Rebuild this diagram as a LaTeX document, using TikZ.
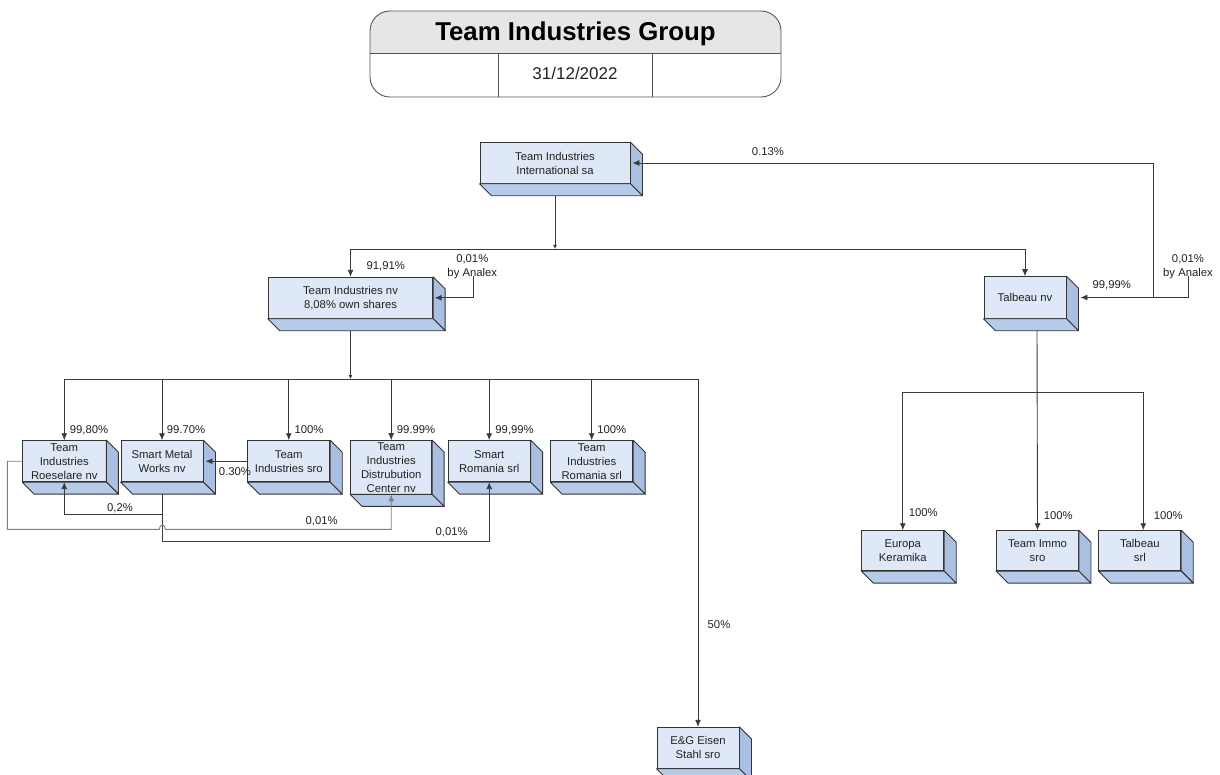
\documentclass[tikz,border=0pt]{standalone}
\usepackage{fontspec}
\setmainfont{Liberation Sans}
\usetikzlibrary{arrows.meta}
\definecolor{frontc}{HTML}{DEE8F6}
\definecolor{sidec}{HTML}{A9C0E2}
\definecolor{botc}{HTML}{B6CAEA}
\definecolor{edgec}{HTML}{333333}
\definecolor{linec}{HTML}{3A3A3A}
\definecolor{graylinec}{HTML}{808080}
\definecolor{txtc}{HTML}{222222}
\definecolor{titleg}{HTML}{E6E6E6}
\definecolor{titleedge}{HTML}{555555}
\tikzset{
  cube/.style={draw=edgec, fill=frontc, line width=0.9pt, inner sep=0pt, align=center,
    font=\fontsize{11.3}{14}\selectfont, text=txtc, minimum width=82, minimum height=41},
  lbl/.style={inner sep=0pt, font=\fontsize{11.3}{14}\selectfont, text=txtc, align=center},
  link/.style={draw=linec, line width=0.9pt},
  arr/.style={link, -{Latex[length=7,width=6]}},
  dotarr/.style={link, -{Latex[length=4,width=4]}},
  sideface/.style={fill=sidec, draw=edgec, line width=0.9pt, line join=round},
  botface/.style={fill=botc, draw=edgec, line width=0.9pt, line join=round},
}
\begin{document}
\begin{tikzpicture}[x=1pt,y=-1pt]
\useasboundingbox (0,0) rectangle (1220,775);
% title block
\begin{scope}
\clip[rounded corners=20] (370,11) rectangle (781,97);
\fill[titleg] (370,11) rectangle (781,53);
\end{scope}
\draw[titleedge, line width=0.9pt, rounded corners=20] (370,11) rectangle (781,97);
\draw[titleedge, line width=0.9pt] (370,53) -- (781,53);
\draw[titleedge, line width=0.9pt] (498,53) -- (498,97);
\draw[titleedge, line width=0.9pt] (652,53) -- (652,97);
\node[inner sep=0pt, anchor=base, font=\fontsize{25.8}{30}\selectfont\bfseries] (title) at (575.5,40.7) {Team Industries Group};
\node[inner sep=0pt, anchor=base, font=\fontsize{17}{20}\selectfont, text=txtc] (date) at (575,79.3) {31/12/2022};

% boxes
\node[cube, minimum width=150, minimum height=40.6] (tii) at (555,163) {Team Industries\\International sa};
\node[cube, minimum width=164.4, minimum height=41] (tinv) at (350.5,297.8) {Team Industries nv\\8,08\% own shares};
\node[cube, minimum height=41.6] (tal) at (1025,297.5) {Talbeau nv};
\node[cube, minimum width=83.3] (tir) at (64.3,461.2) {Team\\Industries\\Roeselare nv};
\node[cube] (smw) at (162,461.2) {Smart Metal\\Works nv};
\node[cube] (tisro) at (288.8,461.2) {Team\\Industries sro};
\node[cube, minimum width=81, minimum height=53.3] (tidc) at (391.2,467.3) {Team\\Industries\\Distrubution\\Center nv};
\node[cube] (sr) at (489.2,461.2) {Smart\\Romania srl};
\node[cube] (tirsrl) at (591.7,461.2) {Team\\Industries\\Romania srl};
\node[cube] (eg) at (698,747.8) {E\&G Eisen\\Stahl sro};
\node[cube, minimum height=40] (ek) at (902.8,550.7) {Europa\\Keramika};
\node[cube, minimum height=40] (immo) at (1037.5,550.7) {Team Immo\\sro};
\node[cube, minimum height=40] (tsrl) at (1139.8,550.7) {Talbeau\\srl};

\foreach \n in {tii,tinv,tal,tir,smw,tisro,tidc,sr,tirsrl,eg,ek,immo,tsrl}{
  \filldraw[sideface] (\n.north east) -- ([shift={(12,12)}]\n.north east) -- ([shift={(12,12)}]\n.south east) -- (\n.south east) -- cycle;
  \filldraw[botface] (\n.south west) -- ([shift={(12,12)}]\n.south west) -- ([shift={(12,12)}]\n.south east) -- (\n.south east) -- cycle;
}

% top level
\coordinate (bus0) at (555,249);
\draw[dotarr] ([shift={(0,12)}]tii.south) -- (bus0);
\draw[arr] (tinv.north |- bus0) -| (tal.north);
\draw[arr] (tinv.north |- bus0) -- (tinv.north);
\coordinate (an1) at (473.3,276);
\draw[arr] (an1) |- ([xshift=1.5]tinv.east);
\node[lbl] (l9191) at (385.7,266.7) {91,91\%};
\node[lbl] (lan1) at (472.3,267) {0,01\%\\by Analex};

% Talbeau links
\coordinate (an2) at (1188,276);
\draw[arr] (an2) |- ([xshift=14]tal.east);
\coordinate (c13) at (1153.3,0);
\draw[arr] (tal.east -| c13) |- ([xshift=2]tii.east);
\node[lbl] (l013) at (768,152) {0.13\%};
\node[lbl] (l9999t) at (1111.7,285) {99,99\%};
\node[lbl] (lan2) at (1188,267) {0,01\%\\by Analex};

% second level bus
\coordinate (bus1) at (350.5,379);
\draw[dotarr] ([shift={(0,12)}]tinv.south) -- (bus1);
\draw[arr] (tir.north |- bus1) -| (eg.north);
\foreach \n in {tir,smw,tisro,tidc,sr,tirsrl}{
  \draw[arr] (\n.north |- bus1) -- (\n.north);
}
\node[lbl] (l9980) at (89,430) {99,80\%};
\node[lbl] (l9970) at (186,430) {99.70\%};
\node[lbl] (l100a) at (309,430) {100\%};
\node[lbl] (l9999a) at (416,430) {99.99\%};
\node[lbl] (l9999b) at (514.6,430) {99,99\%};
\node[lbl] (l100b) at (611.7,430) {100\%};
\node[lbl] (l50) at (719,624.3) {50\%};

% cross links
\draw[arr] (tisro.west) -- ([xshift=2]smw.east);
\node[lbl] (l030) at (235,471.7) {0.30\%};
\coordinate (h02) at (0,514.3);
\draw[arr] ([shift={(0,12)}]smw.south) -- (smw.south |- h02) -| (tir.south);
\node[lbl] (l02) at (120,508) {0,2\%};
\coordinate (h001) at (0,541.7);
\draw[arr] ([shift={(0,12)}]smw.south) -- (smw.south |- h001) -| (sr.south);
\node[lbl] (l001b) at (451.7,532.7) {0,01\%};
\coordinate (g1) at (7.3,0);
\coordinate (g2) at (0,529.3);
\draw[arr, draw=graylinec] (tir.west) -- (tir.west -| g1) -- (g1 |- g2) -- (159.3,529.3)
  .. controls (159.3,523.5) and (165.3,523.5) .. (165.3,529.3) -- (tidc.south |- g2) -- (tidc.south);
\node[lbl] (l001a) at (321.7,521.7) {0,01\%};

% Talbeau children
\coordinate (bus2) at (1037.5,392);
\coordinate (tsrltop) at ([xshift=3.5]tsrl.north);
\draw[arr] ([shift={(12,12)}]tal.south) -- (immo.north);
\draw[arr] (ek.north |- bus2) -- (ek.north);
\draw[arr] (ek.north |- bus2) -- (tsrltop |- bus2) -- (tsrltop);
\node[lbl] (l100c) at (923.3,512.7) {100\%};
\node[lbl] (l100d) at (1058.3,515.7) {100\%};
\node[lbl] (l100e) at (1168.3,515.7) {100\%};
\end{tikzpicture}
\end{document}
